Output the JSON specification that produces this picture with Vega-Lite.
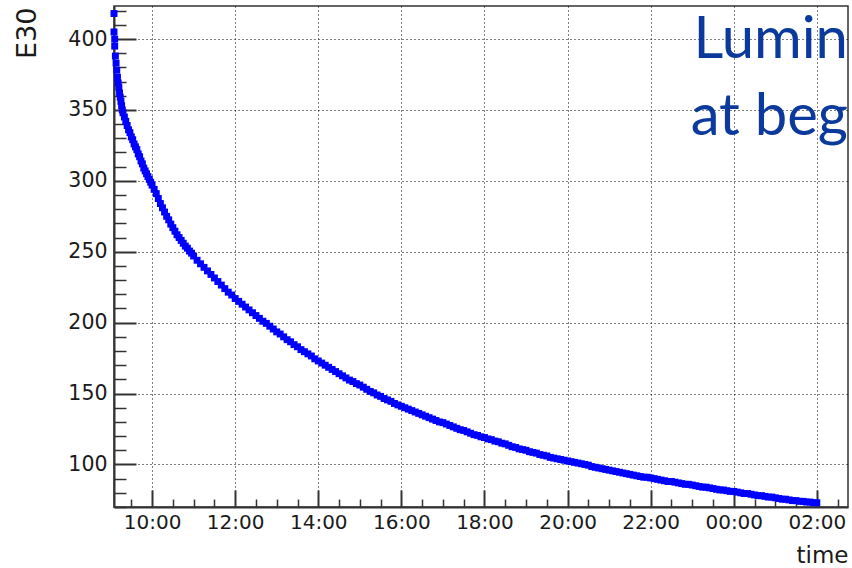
{
  "$schema": "https://vega.github.io/schema/vega-lite/v6.json",
  "width": 734,
  "height": 501,
  "autosize": {"type": "none"},
  "padding": {"left": 114, "top": 6, "right": 4, "bottom": 61},
  "background": "white",
  "config": {
    "view": {"stroke": "#333", "strokeWidth": 1.5},
    "axis": {
      "labelFont": "DejaVu Sans",
      "titleFont": "DejaVu Sans",
      "domainColor": "#333",
      "tickColor": "#333",
      "labelColor": "#1a1a1a",
      "titleColor": "#1a1a1a",
      "titleFontWeight": "normal"
    }
  },
  "datasets": {
    "lumi": [
      {"t":"2012-05-01T09:05","v":418},{"t":"2012-05-01T09:05","v":405},{"t":"2012-05-01T09:06","v":400},{"t":"2012-05-01T09:06","v":395},
      {"t":"2012-05-01T09:07","v":388},{"t":"2012-05-01T09:08","v":383},{"t":"2012-05-01T09:09","v":378},{"t":"2012-05-01T09:10","v":373},
      {"t":"2012-05-01T09:11","v":369},{"t":"2012-05-01T09:12","v":366},{"t":"2012-05-01T09:13","v":362},{"t":"2012-05-01T09:14","v":359},
      {"t":"2012-05-01T09:15","v":356},{"t":"2012-05-01T09:16","v":353},{"t":"2012-05-01T09:17","v":350},{"t":"2012-05-01T09:18","v":348},
      {"t":"2012-05-01T09:20","v":345},{"t":"2012-05-01T09:22","v":342},{"t":"2012-05-01T09:24","v":339},{"t":"2012-05-01T09:26","v":336},
      {"t":"2012-05-01T09:28","v":334},{"t":"2012-05-01T09:30","v":331},{"t":"2012-05-01T09:32","v":329},{"t":"2012-05-01T09:34","v":326},
      {"t":"2012-05-01T09:36","v":324},{"t":"2012-05-01T09:38","v":322},{"t":"2012-05-01T09:40","v":319},{"t":"2012-05-01T09:42","v":317},
      {"t":"2012-05-01T09:44","v":314},{"t":"2012-05-01T09:46","v":312},{"t":"2012-05-01T09:48","v":309},{"t":"2012-05-01T09:50","v":307},
      {"t":"2012-05-01T09:52","v":305},{"t":"2012-05-01T09:54","v":303},{"t":"2012-05-01T09:56","v":301},{"t":"2012-05-01T09:58","v":299},
      {"t":"2012-05-01T10:00","v":297},{"t":"2012-05-01T10:03","v":294},{"t":"2012-05-01T10:06","v":291},{"t":"2012-05-01T10:09","v":287.5},
      {"t":"2012-05-01T10:12","v":284},{"t":"2012-05-01T10:15","v":281},{"t":"2012-05-01T10:18","v":278},{"t":"2012-05-01T10:21","v":275},
      {"t":"2012-05-01T10:24","v":272.5},{"t":"2012-05-01T10:27","v":269.5},{"t":"2012-05-01T10:30","v":267},{"t":"2012-05-01T10:33","v":264.5},
      {"t":"2012-05-01T10:36","v":262},{"t":"2012-05-01T10:39","v":260},{"t":"2012-05-01T10:42","v":258},{"t":"2012-05-01T10:45","v":256},
      {"t":"2012-05-01T10:48","v":254},{"t":"2012-05-01T10:51","v":252.5},{"t":"2012-05-01T10:54","v":250.5},{"t":"2012-05-01T10:57","v":249},
      {"t":"2012-05-01T11:00","v":247},{"t":"2012-05-01T11:05","v":244},{"t":"2012-05-01T11:10","v":241.5},{"t":"2012-05-01T11:15","v":239},
      {"t":"2012-05-01T11:20","v":236.5},{"t":"2012-05-01T11:25","v":234},{"t":"2012-05-01T11:30","v":231.5},{"t":"2012-05-01T11:35","v":229},
      {"t":"2012-05-01T11:40","v":226.5},{"t":"2012-05-01T11:45","v":224},{"t":"2012-05-01T11:50","v":221.5},{"t":"2012-05-01T11:55","v":219.5},
      {"t":"2012-05-01T12:00","v":217},{"t":"2012-05-01T12:05","v":215},{"t":"2012-05-01T12:10","v":213},{"t":"2012-05-01T12:15","v":211},
      {"t":"2012-05-01T12:20","v":209},{"t":"2012-05-01T12:25","v":207},{"t":"2012-05-01T12:30","v":205},{"t":"2012-05-01T12:35","v":203},
      {"t":"2012-05-01T12:40","v":201},{"t":"2012-05-01T12:45","v":199.5},{"t":"2012-05-01T12:50","v":197.5},{"t":"2012-05-01T12:55","v":195.5},
      {"t":"2012-05-01T13:00","v":193.5},{"t":"2012-05-01T13:05","v":192},{"t":"2012-05-01T13:10","v":190},{"t":"2012-05-01T13:15","v":188},
      {"t":"2012-05-01T13:20","v":186.5},{"t":"2012-05-01T13:25","v":184.5},{"t":"2012-05-01T13:30","v":183},{"t":"2012-05-01T13:35","v":181},
      {"t":"2012-05-01T13:40","v":179.5},{"t":"2012-05-01T13:45","v":178},{"t":"2012-05-01T13:50","v":176.5},{"t":"2012-05-01T13:55","v":174.5},
      {"t":"2012-05-01T14:00","v":173},{"t":"2012-05-01T14:05","v":171.5},{"t":"2012-05-01T14:10","v":170},{"t":"2012-05-01T14:15","v":168.5},
      {"t":"2012-05-01T14:20","v":167},{"t":"2012-05-01T14:25","v":165.5},{"t":"2012-05-01T14:30","v":164},{"t":"2012-05-01T14:35","v":162.5},
      {"t":"2012-05-01T14:40","v":161},{"t":"2012-05-01T14:45","v":159.5},{"t":"2012-05-01T14:50","v":158.5},{"t":"2012-05-01T14:55","v":157},
      {"t":"2012-05-01T15:00","v":156},{"t":"2012-05-01T15:05","v":154.5},{"t":"2012-05-01T15:10","v":153},{"t":"2012-05-01T15:15","v":151.5},
      {"t":"2012-05-01T15:20","v":150.5},{"t":"2012-05-01T15:25","v":149},{"t":"2012-05-01T15:30","v":148},{"t":"2012-05-01T15:35","v":146.5},
      {"t":"2012-05-01T15:40","v":145.5},{"t":"2012-05-01T15:45","v":144.5},{"t":"2012-05-01T15:50","v":143},{"t":"2012-05-01T15:55","v":142},
      {"t":"2012-05-01T16:00","v":141},{"t":"2012-05-01T16:05","v":140},{"t":"2012-05-01T16:10","v":139},{"t":"2012-05-01T16:15","v":138},
      {"t":"2012-05-01T16:20","v":137},{"t":"2012-05-01T16:25","v":136},{"t":"2012-05-01T16:30","v":135},{"t":"2012-05-01T16:35","v":134},
      {"t":"2012-05-01T16:40","v":133},{"t":"2012-05-01T16:45","v":132},{"t":"2012-05-01T16:50","v":131},{"t":"2012-05-01T16:55","v":130},
      {"t":"2012-05-01T17:00","v":129.5},{"t":"2012-05-01T17:05","v":128.5},{"t":"2012-05-01T17:10","v":127.5},{"t":"2012-05-01T17:15","v":126.5},
      {"t":"2012-05-01T17:20","v":125.5},{"t":"2012-05-01T17:25","v":124.5},{"t":"2012-05-01T17:30","v":124},{"t":"2012-05-01T17:35","v":123},
      {"t":"2012-05-01T17:40","v":122},{"t":"2012-05-01T17:45","v":121},{"t":"2012-05-01T17:50","v":120.5},{"t":"2012-05-01T17:55","v":119.5},
      {"t":"2012-05-01T18:00","v":119},{"t":"2012-05-01T18:05","v":118},{"t":"2012-05-01T18:10","v":117.5},{"t":"2012-05-01T18:15","v":116.5},
      {"t":"2012-05-01T18:20","v":116},{"t":"2012-05-01T18:25","v":115},{"t":"2012-05-01T18:30","v":114.5},{"t":"2012-05-01T18:35","v":113.5},
      {"t":"2012-05-01T18:40","v":112.5},{"t":"2012-05-01T18:45","v":112},{"t":"2012-05-01T18:50","v":111},{"t":"2012-05-01T18:55","v":110.5},
      {"t":"2012-05-01T19:00","v":110},{"t":"2012-05-01T19:05","v":109},{"t":"2012-05-01T19:10","v":108.5},{"t":"2012-05-01T19:15","v":108},
      {"t":"2012-05-01T19:20","v":107},{"t":"2012-05-01T19:25","v":106.5},{"t":"2012-05-01T19:30","v":106},{"t":"2012-05-01T19:35","v":105},
      {"t":"2012-05-01T19:40","v":104.5},{"t":"2012-05-01T19:45","v":104},{"t":"2012-05-01T19:50","v":103.5},{"t":"2012-05-01T19:55","v":103},
      {"t":"2012-05-01T20:00","v":102.5},{"t":"2012-05-01T20:05","v":102},{"t":"2012-05-01T20:10","v":101.5},{"t":"2012-05-01T20:15","v":101},
      {"t":"2012-05-01T20:20","v":100.5},{"t":"2012-05-01T20:25","v":100},{"t":"2012-05-01T20:30","v":99.5},{"t":"2012-05-01T20:35","v":98.5},
      {"t":"2012-05-01T20:40","v":98},{"t":"2012-05-01T20:45","v":97.5},{"t":"2012-05-01T20:50","v":97},{"t":"2012-05-01T20:55","v":96.5},
      {"t":"2012-05-01T21:00","v":96},{"t":"2012-05-01T21:05","v":95.5},{"t":"2012-05-01T21:10","v":95},{"t":"2012-05-01T21:15","v":94.5},
      {"t":"2012-05-01T21:20","v":94},{"t":"2012-05-01T21:25","v":93.5},{"t":"2012-05-01T21:30","v":93},{"t":"2012-05-01T21:35","v":92.5},
      {"t":"2012-05-01T21:40","v":92},{"t":"2012-05-01T21:45","v":91.5},{"t":"2012-05-01T21:50","v":91},{"t":"2012-05-01T21:55","v":91},
      {"t":"2012-05-01T22:00","v":90.5},{"t":"2012-05-01T22:05","v":90},{"t":"2012-05-01T22:10","v":89.5},{"t":"2012-05-01T22:15","v":89},
      {"t":"2012-05-01T22:20","v":88.5},{"t":"2012-05-01T22:25","v":88},{"t":"2012-05-01T22:30","v":88},{"t":"2012-05-01T22:35","v":87.5},
      {"t":"2012-05-01T22:40","v":87},{"t":"2012-05-01T22:45","v":86.5},{"t":"2012-05-01T22:50","v":86},{"t":"2012-05-01T22:55","v":86},
      {"t":"2012-05-01T23:00","v":85.5},{"t":"2012-05-01T23:05","v":85},{"t":"2012-05-01T23:10","v":84.5},{"t":"2012-05-01T23:15","v":84},
      {"t":"2012-05-01T23:20","v":84},{"t":"2012-05-01T23:25","v":83.5},{"t":"2012-05-01T23:30","v":83},{"t":"2012-05-01T23:35","v":82.5},
      {"t":"2012-05-01T23:40","v":82},{"t":"2012-05-01T23:45","v":82},{"t":"2012-05-01T23:50","v":81.5},{"t":"2012-05-01T23:55","v":81},
      {"t":"2012-05-02T00:00","v":81},{"t":"2012-05-02T00:05","v":80.5},{"t":"2012-05-02T00:10","v":80},{"t":"2012-05-02T00:15","v":79.5},
      {"t":"2012-05-02T00:20","v":79.5},{"t":"2012-05-02T00:25","v":79},{"t":"2012-05-02T00:30","v":78.5},{"t":"2012-05-02T00:35","v":78},
      {"t":"2012-05-02T00:40","v":78},{"t":"2012-05-02T00:45","v":77.5},{"t":"2012-05-02T00:50","v":77},{"t":"2012-05-02T00:55","v":77},
      {"t":"2012-05-02T01:00","v":76.5},{"t":"2012-05-02T01:05","v":76},{"t":"2012-05-02T01:10","v":75.5},{"t":"2012-05-02T01:15","v":75.5},
      {"t":"2012-05-02T01:20","v":75},{"t":"2012-05-02T01:25","v":74.5},{"t":"2012-05-02T01:30","v":74.5},{"t":"2012-05-02T01:35","v":74},
      {"t":"2012-05-02T01:40","v":74},{"t":"2012-05-02T01:45","v":73.5},{"t":"2012-05-02T01:50","v":73.5},{"t":"2012-05-02T01:55","v":73},
      {"t":"2012-05-02T02:00","v":73}
    ],
    "note": [
      {"t":"2012-05-02T02:45","v":386.6,"label":"Lumin"},
      {"t":"2012-05-02T02:45","v":332.3,"label":"at beg"}
    ]
  },
  "layer": [
    {
      "data": {"name": "lumi"},
      "mark": {"type": "point", "shape": "square", "filled": true, "size": 48, "color": "#0000ff", "opacity": 1, "strokeWidth": 0},
      "encoding": {
        "x": {
          "field": "t", "type": "temporal",
          "scale": {"domain": [{"year":2012,"month":5,"date":1,"hours":9,"minutes":5},{"year":2012,"month":5,"date":2,"hours":2,"minutes":45}]},
          "axis": {
            "orient": "bottom", "title": "time", "format": "%H:%M",
            "values": [
              {"year":2012,"month":5,"date":1,"hours":10},{"year":2012,"month":5,"date":1,"hours":12},
              {"year":2012,"month":5,"date":1,"hours":14},{"year":2012,"month":5,"date":1,"hours":16},
              {"year":2012,"month":5,"date":1,"hours":18},{"year":2012,"month":5,"date":1,"hours":20},
              {"year":2012,"month":5,"date":1,"hours":22},{"year":2012,"month":5,"date":2,"hours":0},
              {"year":2012,"month":5,"date":2,"hours":2}
            ],
            "grid": true, "gridDash": [1, 3], "gridColor": "#000", "gridWidth": 1,
            "tickSize": -17, "tickWidth": 2, "domainWidth": 2,
            "labelPadding": 22, "labelFontSize": 20, "labelFlush": false, "labelOverlap": false,
            "titleFontSize": 23, "titleX": 734, "titleY": 55, "titleAlign": "right", "titleAnchor": "end", "titleBaseline": "alphabetic"
          }
        },
        "y": {
          "field": "v", "type": "quantitative",
          "scale": {"domain": [70, 423.3], "nice": false, "zero": false},
          "axis": {
            "orient": "left", "title": "E30",
            "values": [100, 150, 200, 250, 300, 350, 400],
            "grid": true, "gridDash": [1, 3], "gridColor": "#000", "gridWidth": 1,
            "tickSize": -22, "tickWidth": 2, "domainWidth": 2,
            "labelPadding": 29, "labelFontSize": 20.5,
            "titleFontSize": 27, "titleAngle": -90, "titleX": -79, "titleY": 1, "titleAlign": "right", "titleAnchor": "end", "titleBaseline": "alphabetic"
          }
        }
      }
    },
    {
      "data": {"name": "note"},
      "mark": {"type": "text", "align": "right", "baseline": "alphabetic", "font": "Lato", "fontSize": 58, "color": "#0b3a9c"},
      "encoding": {
        "x": {
          "field": "t", "type": "temporal",
          "scale": {"domain": [{"year":2012,"month":5,"date":1,"hours":9,"minutes":5},{"year":2012,"month":5,"date":2,"hours":2,"minutes":45}]},
          "axis": {"orient": "bottom", "title": null, "labels": false, "grid": false, "domain": false,
                   "values": [
                     {"year":2012,"month":5,"date":1,"hours":9,"minutes":30},{"year":2012,"month":5,"date":1,"hours":10,"minutes":30},
                     {"year":2012,"month":5,"date":1,"hours":11},{"year":2012,"month":5,"date":1,"hours":11,"minutes":30},
                     {"year":2012,"month":5,"date":1,"hours":12,"minutes":30},{"year":2012,"month":5,"date":1,"hours":13},
                     {"year":2012,"month":5,"date":1,"hours":13,"minutes":30},{"year":2012,"month":5,"date":1,"hours":14,"minutes":30},
                     {"year":2012,"month":5,"date":1,"hours":15},{"year":2012,"month":5,"date":1,"hours":15,"minutes":30},
                     {"year":2012,"month":5,"date":1,"hours":16,"minutes":30},{"year":2012,"month":5,"date":1,"hours":17},
                     {"year":2012,"month":5,"date":1,"hours":17,"minutes":30},{"year":2012,"month":5,"date":1,"hours":18,"minutes":30},
                     {"year":2012,"month":5,"date":1,"hours":19},{"year":2012,"month":5,"date":1,"hours":19,"minutes":30},
                     {"year":2012,"month":5,"date":1,"hours":20,"minutes":30},{"year":2012,"month":5,"date":1,"hours":21},
                     {"year":2012,"month":5,"date":1,"hours":21,"minutes":30},{"year":2012,"month":5,"date":1,"hours":22,"minutes":30},
                     {"year":2012,"month":5,"date":1,"hours":23},{"year":2012,"month":5,"date":1,"hours":23,"minutes":30},
                     {"year":2012,"month":5,"date":2,"hours":0,"minutes":30},{"year":2012,"month":5,"date":2,"hours":1},
                     {"year":2012,"month":5,"date":2,"hours":1,"minutes":30},{"year":2012,"month":5,"date":2,"hours":2,"minutes":30}
                   ],
                   "tickSize": -8, "tickWidth": 1.5}
        },
        "y": {
          "field": "v", "type": "quantitative",
          "scale": {"domain": [70, 423.3], "nice": false, "zero": false},
          "axis": {"orient": "left", "title": null, "labels": false, "grid": false, "domain": false,
                   "values": [70,80,90,110,120,130,140,160,170,180,190,210,220,230,240,260,270,280,290,310,320,330,340,360,370,380,390,410,420],
                   "tickSize": -12, "tickWidth": 1.5}
        },
        "text": {"field": "label"}
      }
    }
  ],
  "resolve": {"axis": {"x": "independent", "y": "independent"}}
}
